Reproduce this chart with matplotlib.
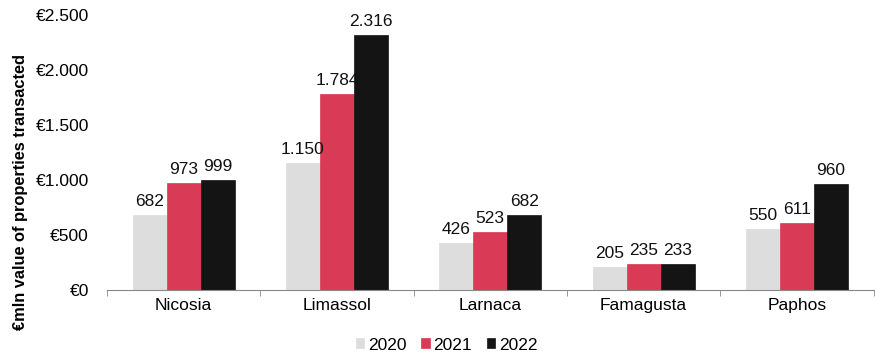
import matplotlib.pyplot as plt
import numpy as np
from matplotlib.ticker import FuncFormatter

plt.rcParams['font.family'] = ['Liberation Sans', 'DejaVu Sans']

districts = ["Nicosia", "Limassol", "Larnaca", "Famagusta", "Paphos"]
years = ["2020", "2021", "2022"]
v2020 = [682, 1150, 426, 205, 550]
v2021 = [973, 1784, 523, 235, 611]
v2022 = [999, 2316, 682, 233, 960]
colors = ["#DDDDDD", "#D93A55", "#141414"]

FS = 12.5

def fmt_thousands(v):
    return f"{int(v):,}".replace(",", ".")

fig = plt.figure(figsize=(8.75, 3.56), dpi=100)
ax = fig.add_axes([0.1223, 0.1854, 0.876, 0.7726])

x = np.arange(len(districts))
w = 0.222
for i, (vals, c, yr) in enumerate(zip([v2020, v2021, v2022], colors, years)):
    pos = x + (i - 1) * w
    bars = ax.bar(pos, vals, width=w, color=c, edgecolor=c, linewidth=0.5, label=yr)
    for b, v in zip(bars, vals):
        ax.text(b.get_x() + b.get_width() / 2, v + 55, fmt_thousands(v),
                ha='center', va='bottom', fontsize=FS, color='#111111')

ax.set_xlim(-0.5, len(districts) - 0.5)
ax.set_ylim(0, 2500)
ax.set_yticks(np.arange(0, 2501, 500))
ax.yaxis.set_major_formatter(FuncFormatter(lambda v, p: "€" + fmt_thousands(v)))
ax.tick_params(axis='y', length=0, labelsize=FS, pad=13)
ax.set_xticks(x)
ax.set_xticklabels(districts)
ax.tick_params(axis='x', length=0, labelsize=FS, pad=6)
ax.set_xticks(np.arange(-0.5, len(districts), 1), minor=True)
ax.tick_params(axis='x', which='minor', length=4, color='#888888')

for s in ['top', 'right', 'left']:
    ax.spines[s].set_visible(False)
ax.spines['bottom'].set_color('#888888')

ax.set_ylabel("€mln value of properties transacted", fontsize=11.8,
              fontweight='bold')
ax.yaxis.set_label_coords(-0.103, 0.355)

ax.legend(loc='center', bbox_to_anchor=(0.443, -0.2), ncol=3, frameon=False,
          fontsize=FS, handlelength=0.5, handleheight=0.5, handletextpad=0.2,
          columnspacing=0.85, borderpad=0.1)

fig.savefig("out.png", dpi=100)
